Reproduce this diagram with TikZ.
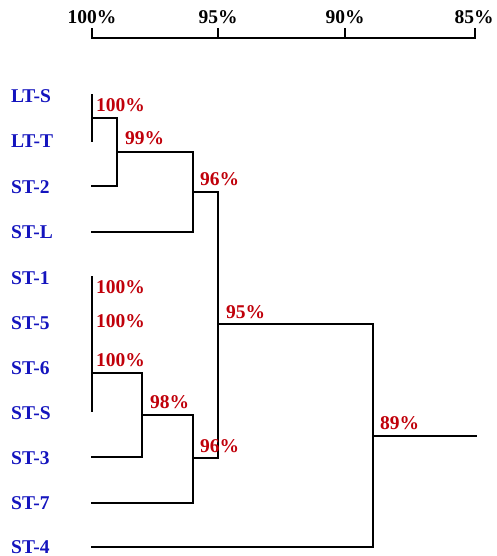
\documentclass[tikz,border=0pt]{standalone}
\usepackage{fontspec}
\setmainfont{Liberation Serif}
\definecolor{leafblue}{RGB}{20,20,190}
\definecolor{simred}{RGB}{192,0,10}
\begin{document}
\begin{tikzpicture}[x=1pt,y=-1pt,
  branch/.style={line width=1.7pt,line cap=rect,line join=miter},
  leaf/.style={anchor=base west,inner sep=0pt,font=\fontsize{19.5}{19.5}\selectfont\bfseries,text=leafblue},
  sim/.style={anchor=base west,inner sep=0pt,font=\fontsize{19.5}{19.5}\selectfont\bfseries,text=simred},
  scale label/.style={anchor=base,inner sep=0pt,font=\fontsize{19.5}{19.5}\selectfont\bfseries}]
\useasboundingbox (0,0) rectangle (497,556);

% similarity scale
\coordinate (s100) at (92,38);
\coordinate (s95) at (218,38);
\coordinate (s90) at (345,38);
\coordinate (s85) at (475,38);
\draw[branch] (s100) ++(0,-9) -- (s100) -- (s85) -- ++(0,-9);
\draw[branch] (s95) -- ++(0,-9);
\draw[branch] (s90) -- ++(0,-9);
\node[scale label] (t100) at (92,24) {100\%};
\node[scale label] (t95) at (218,24) {95\%};
\node[scale label] (t90) at (345,24) {90\%};
\node[scale label] (t85) at (474,24) {85\%};

% strain labels
\node[leaf] (lts) at (11,103) {LT-S};
\node[leaf] (ltt) at (11,148) {LT-T};
\node[leaf] (st2) at (11,193) {ST-2};
\node[leaf] (stl) at (11,238) {ST-L};
\node[leaf] (st1) at (11,284) {ST-1};
\node[leaf] (st5) at (11,329) {ST-5};
\node[leaf] (st6) at (11,374) {ST-6};
\node[leaf] (sts) at (11,419) {ST-S};
\node[leaf] (st3) at (11,464) {ST-3};
\node[leaf] (st7) at (11,509) {ST-7};
\node[leaf] (st4) at (11,553) {ST-4};

% leaf tips
\coordinate (e-lts) at (92,95);
\coordinate (e-ltt) at (92,141);
\coordinate (e-st2) at (92,186);
\coordinate (e-stl) at (92,232);
\coordinate (e-st1) at (92,277);
\coordinate (e-sts) at (92,411);
\coordinate (e-st3) at (92,457);
\coordinate (e-st7) at (92,503);
\coordinate (e-st4) at (92,547);

% internal joins
\coordinate (j1) at (92,118);
\coordinate (j2) at (117,152);
\coordinate (j3) at (193,192);
\coordinate (k1) at (92,373);
\coordinate (k2) at (142,415);
\coordinate (k3) at (193,458);
\coordinate (j4) at (218,324);
\coordinate (root) at (373,436);
\coordinate (rootend) at (476,436);

% upper cluster
\draw[branch] (e-lts) -- (e-ltt);
\draw[branch] (j1) -| (j2) |- (e-st2);
\draw[branch] (j1) -| (117,186);
\draw[branch] (j2) -| (j3);
\draw[branch] (193,152) |- (e-stl);
\draw[branch] (j3) -| (218,192);

% lower cluster
\draw[branch] (e-st1) -- (e-sts);
\draw[branch] (k1) -| (142,457) -- (e-st3);
\draw[branch] (k2) -| (193,503) -- (e-st7);
\draw[branch] (k3) -| (218,458);

% joining the two clusters
\draw[branch] (218,192) -- (218,458);
\draw[branch] (j4) -| (373,547) -- (e-st4);
\draw[branch] (root) -- (rootend);

% similarity values
\node[sim] (p1) at (96,112) {100\%};
\node[sim] (p2) at (125,145) {99\%};
\node[sim] (p3) at (200,185) {96\%};
\node[sim] (p4) at (96,293) {100\%};
\node[sim] (p5) at (96,327) {100\%};
\node[sim] (p6) at (96,366) {100\%};
\node[sim] (p7) at (150,408) {98\%};
\node[sim] (p8) at (200,452) {96\%};
\node[sim] (p9) at (226,318) {95\%};
\node[sim] (p10) at (380,429) {89\%};
\end{tikzpicture}
\end{document}
